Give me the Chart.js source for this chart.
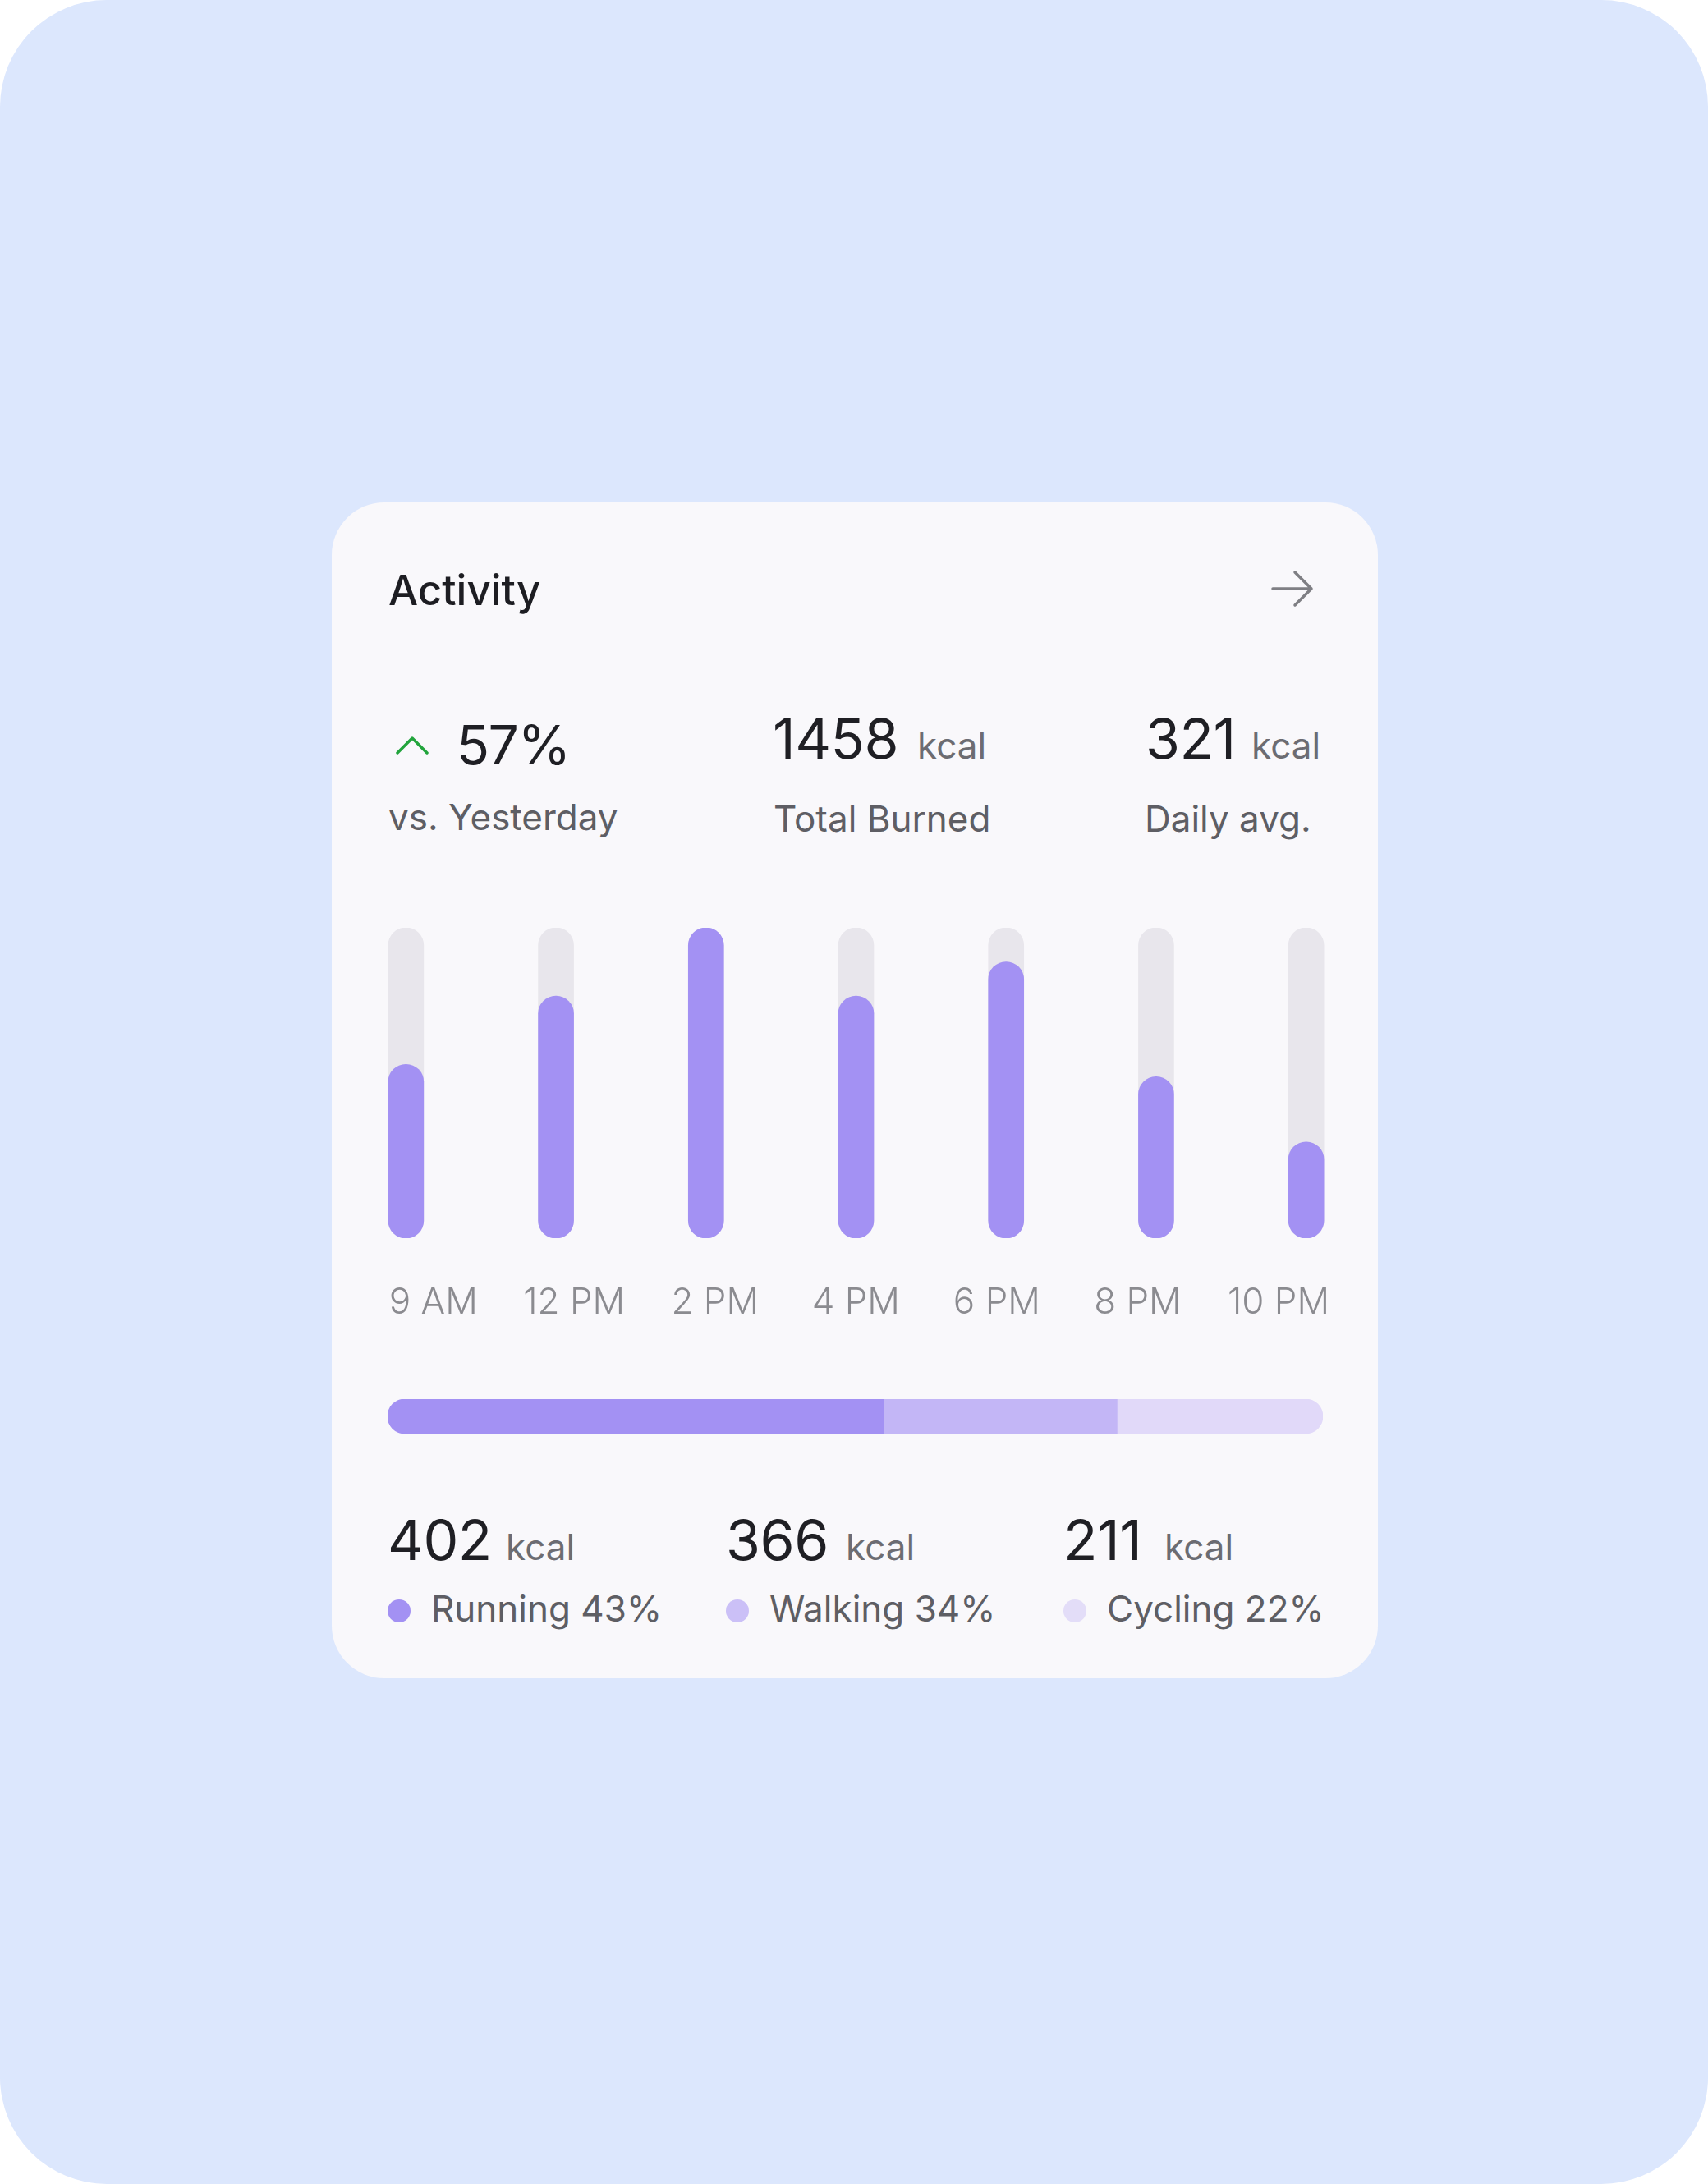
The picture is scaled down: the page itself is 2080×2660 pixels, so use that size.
<!DOCTYPE html>
<html>
<head>
<meta charset="utf-8">
<script src="https://cdn.jsdelivr.net/npm/chart.js@4.4.1/dist/chart.umd.min.js"></script>
<style>
  html, body { margin: 0; padding: 0; background: #ffffff; }
  body { width: 2080px; height: 2660px; position: relative; overflow: hidden; font-family: 'Inter', 'Noto Sans', sans-serif; }
  .bg { position: absolute; left: 0; top: 0; width: 2080px; height: 2660px; border-radius: 130px; background: #dce7fd; }
  .card { position: absolute; left: 404px; top: 612px; width: 1274px; height: 1432px; border-radius: 64px; background: #f9f8fb; }
  .t { position: absolute; line-height: 1; white-space: nowrap; }
  .title { font-size: 51px; font-weight: 500; color: #1d1d22; }
  .big { font-size: 68px; font-weight: 400; color: #1f1f24; letter-spacing: -0.5px; }
  .unit { font-size: 44px; font-weight: 400; color: #6c6c72; }
  .sub { font-size: 44px; font-weight: 400; color: #5e5e64; }
  .dot { position: absolute; width: 28px; height: 28px; border-radius: 50%; }
  .box { position: absolute; }
</style>
</head>
<body>
<div class="bg"></div>
<div class="card"></div>

<div class="t title" style="left:473px; top:693px;">Activity</div>
<svg class="box" style="left:1540px; top:690px;" width="70" height="56" viewBox="0 0 70 56">
  <path d="M10 27 H57 M37 7 L57 27 L37 47" fill="none" stroke="#7f7f84" stroke-width="3.5" stroke-linecap="round" stroke-linejoin="round"/>
</svg>

<svg class="box" style="left:476px; top:890px;" width="52" height="36" viewBox="0 0 52 36">
  <path d="M8 27 L26 9 L44 27" fill="none" stroke="#22a43c" stroke-width="3.5" stroke-linecap="round" stroke-linejoin="round"/>
</svg>
<div id="changePct" class="t big" style="left:556px; top:874px; font-size:66px; letter-spacing:-1.5px;"></div>
<div class="t sub" style="left:473px; top:973px;">vs. Yesterday</div>

<div id="totalVal" class="t big" style="left:941px; top:865px;"></div>
<div class="t unit" style="left:1117px; top:886px;">kcal</div>
<div class="t sub" style="left:942px; top:975px;">Total Burned</div>

<div id="avgVal" class="t big" style="left:1395px; top:865px;"></div>
<div class="t unit" style="left:1524px; top:886px;">kcal</div>
<div class="t sub" style="left:1394px; top:975px;">Daily avg.</div>

<div class="box" style="left:403px; top:1130px; width:1279px; height:498px;">
  <canvas id="hours"></canvas>
</div>

<div class="box" style="left:472px; top:1704px; width:1139px; height:42px;">
  <canvas id="split"></canvas>
</div>

<div id="legend"></div>

<script>
// summary numbers
const changePct = 57;
const totalBurned = 1458;
const dailyAvg = 321;

// hourly activity (share of the daily peak)
const timeLabels = ['9 AM', '12 PM', '2 PM', '4 PM', '6 PM', '8 PM', '10 PM'];
const activityLevels = [56, 78, 100, 78, 89, 52, 31];
const trackLevels = [100, 100, 100, 100, 100, 100, 100];

// breakdown by sport
const sportNames = ['Running', 'Walking', 'Cycling'];
const sportKcal = [402, 366, 211];
const sportPercents = [43, 34, 22];
const sportBarShares = [53, 25, 22]; // segment lengths as drawn in the bar
const sportColors = ['#a391f3', '#c3b6f6', '#e1d9f9'];
const dotColors = ['#a391f3', '#cbc0f7', '#e3ddf8'];

document.getElementById('changePct').textContent = changePct + '%';
document.getElementById('totalVal').textContent = totalBurned;
document.getElementById('avgVal').textContent = dailyAvg;

Chart.defaults.font.family = 'Inter';

new Chart(document.getElementById('hours'), {
  type: 'bar',
  data: {
    labels: timeLabels,
    datasets: [
      {
        label: 'Activity',
        data: activityLevels,
        backgroundColor: '#a391f3',
        order: 0
      },
      {
        label: 'Track',
        data: trackLevels,
        backgroundColor: '#e8e6ec',
        order: 1
      }
    ]
  },
  options: {
    responsive: true,
    maintainAspectRatio: false,
    animation: false,
    events: [],
    layout: { padding: 0 },
    datasets: {
      bar: {
        grouped: false,
        barThickness: 43,
        borderRadius: 100,
        borderSkipped: false
      }
    },
    plugins: { legend: { display: false }, tooltip: { enabled: false } },
    scales: {
      x: { display: false },
      y: { display: false, min: 0, max: 100 },
      // separate axis that carries the time labels (they sit evenly between the card edges)
      xLabels: {
        type: 'linear',
        position: 'bottom',
        offset: false,
        min: -0.727,
        max: 6.729,
        grid: { display: false, drawTicks: false },
        border: { display: false },
        afterBuildTicks: axis => { axis.ticks = timeLabels.map((_, i) => ({ value: i })); },
        afterFit: axis => { axis.height = 120; },
        ticks: {
          autoSkip: false,
          maxRotation: 0,
          padding: 52,
          color: '#8b8b90',
          font: { size: 44, weight: 300 },
          callback: v => timeLabels[v]
        }
      }
    }
  }
});

new Chart(document.getElementById('split'), {
  type: 'bar',
  data: {
    labels: ['Share'],
    datasets: sportNames.map((name, i) => ({
      label: name,
      data: [sportBarShares[i]],
      backgroundColor: sportColors[i],
      borderSkipped: false,
      borderRadius: i === 0 ? { topLeft: 21, bottomLeft: 21, topRight: 0, bottomRight: 0 }
        : i === sportNames.length - 1 ? { topLeft: 0, bottomLeft: 0, topRight: 21, bottomRight: 21 } : 0
    }))
  },
  options: {
    indexAxis: 'y',
    responsive: true,
    maintainAspectRatio: false,
    animation: false,
    events: [],
    layout: { padding: 0 },
    datasets: { bar: { barPercentage: 1, categoryPercentage: 1 } },
    plugins: { legend: { display: false }, tooltip: { enabled: false } },
    scales: {
      x: { display: false, stacked: true, min: 0, max: 100 },
      y: { display: false, stacked: true }
    }
  }
});

// kcal figures and legend under the bar
const colLeft = [472, 884, 1295];
const unitLeft = [616, 1030, 1418];
const legend = document.getElementById('legend');
sportNames.forEach((name, i) => {
  legend.insertAdjacentHTML('beforeend',
    `<div class="t big" style="left:${colLeft[i]}px; top:1841px;">${sportKcal[i]}</div>` +
    `<div class="t unit" style="left:${unitLeft[i]}px; top:1862px;">kcal</div>` +
    `<div class="dot" style="left:${colLeft[i]}px; top:1948px; background:${dotColors[i]};"></div>` +
    `<div class="t sub" style="left:${colLeft[i] + 53}px; top:1937px;">${name} ${sportPercents[i]}%</div>`);
});
</script>
</body>
</html>
